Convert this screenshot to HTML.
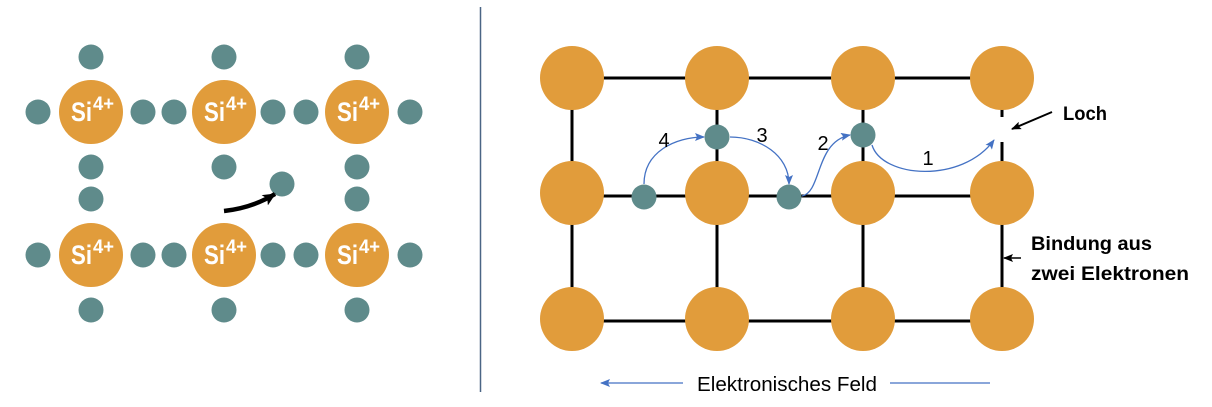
<!DOCTYPE html>
<html>
<head>
<meta charset="utf-8">
<style>
  html,body{margin:0;padding:0;background:#ffffff;}
  body{width:1212px;height:407px;overflow:hidden;}
  svg{display:block;}
</style>
</head>
<body>
<svg width="1212" height="407" viewBox="0 0 1212 407" xmlns="http://www.w3.org/2000/svg">
  <defs>
    <marker id="ab" markerUnits="userSpaceOnUse" markerWidth="14" markerHeight="12" refX="12" refY="6" orient="auto">
      <path d="M0,0 L13,6 L0,12 L3,6 Z" fill="#000"/>
    </marker>
    <marker id="abl" markerUnits="userSpaceOnUse" markerWidth="10" markerHeight="8" refX="9" refY="4" orient="auto">
      <path d="M0,0 L10,4 L0,8 L2,4 Z" fill="#4472C4"/>
    </marker>
    <marker id="ak" markerUnits="userSpaceOnUse" markerWidth="10" markerHeight="8" refX="9" refY="4" orient="auto">
      <path d="M0,0 L10,4 L0,8 L2,4 Z" fill="#000"/>
    </marker>
  </defs>

  <!-- ============ LEFT PART ============ -->
  <g fill="#5F8B8B">
    <circle cx="91" cy="57" r="12.5"/>
    <circle cx="224" cy="57" r="12.5"/>
    <circle cx="357" cy="57" r="12.5"/>
    <circle cx="38" cy="112" r="12.5"/>
    <circle cx="143" cy="112" r="12.5"/>
    <circle cx="174" cy="112" r="12.5"/>
    <circle cx="273" cy="112" r="12.5"/>
    <circle cx="306" cy="112" r="12.5"/>
    <circle cx="410" cy="112" r="12.5"/>
    <circle cx="91" cy="167" r="12.5"/>
    <circle cx="224" cy="167" r="12.5"/>
    <circle cx="357" cy="167" r="12.5"/>
    <circle cx="91" cy="199" r="12.5"/>
    <circle cx="357" cy="199" r="12.5"/>
    <circle cx="282" cy="184" r="12.5"/>
    <circle cx="38" cy="255" r="12.5"/>
    <circle cx="143" cy="255" r="12.5"/>
    <circle cx="174" cy="255" r="12.5"/>
    <circle cx="273" cy="255" r="12.5"/>
    <circle cx="306" cy="255" r="12.5"/>
    <circle cx="410" cy="255" r="12.5"/>
    <circle cx="91" cy="310" r="12.5"/>
    <circle cx="224" cy="310" r="12.5"/>
    <circle cx="357" cy="310" r="12.5"/>
  </g>
  <g fill="#E19C3B">
    <circle cx="91" cy="112" r="32"/>
    <circle cx="224" cy="112" r="32"/>
    <circle cx="357" cy="112" r="32"/>
    <circle cx="91" cy="255" r="32"/>
    <circle cx="224" cy="255" r="32"/>
    <circle cx="357" cy="255" r="32"/>
  </g>
  <g fill="#ffffff" font-family="'Liberation Sans', sans-serif" font-weight="bold">
    <text x="71" y="121" font-size="27" textLength="21" lengthAdjust="spacingAndGlyphs">Si</text>
    <text x="93" y="110" font-size="19" textLength="21" lengthAdjust="spacingAndGlyphs">4+</text>
    <text x="204" y="121" font-size="27" textLength="21" lengthAdjust="spacingAndGlyphs">Si</text>
    <text x="226" y="110" font-size="19" textLength="21" lengthAdjust="spacingAndGlyphs">4+</text>
    <text x="337" y="121" font-size="27" textLength="21" lengthAdjust="spacingAndGlyphs">Si</text>
    <text x="359" y="110" font-size="19" textLength="21" lengthAdjust="spacingAndGlyphs">4+</text>
    <text x="71" y="264" font-size="27" textLength="21" lengthAdjust="spacingAndGlyphs">Si</text>
    <text x="93" y="253" font-size="19" textLength="21" lengthAdjust="spacingAndGlyphs">4+</text>
    <text x="204" y="264" font-size="27" textLength="21" lengthAdjust="spacingAndGlyphs">Si</text>
    <text x="226" y="253" font-size="19" textLength="21" lengthAdjust="spacingAndGlyphs">4+</text>
    <text x="337" y="264" font-size="27" textLength="21" lengthAdjust="spacingAndGlyphs">Si</text>
    <text x="359" y="253" font-size="19" textLength="21" lengthAdjust="spacingAndGlyphs">4+</text>
  </g>
  <path d="M224,211 Q252,208 275,194" fill="none" stroke="#000" stroke-width="4.5" marker-end="url(#ab)"/>

  <line x1="480.5" y1="7" x2="480.5" y2="392" stroke="#4A6585" stroke-width="1.5"/>

  <!-- ============ RIGHT PART ============ -->
  <g stroke="#000" stroke-width="3" fill="none">
    <line x1="572" y1="78" x2="1002" y2="78"/>
    <line x1="572" y1="196" x2="1002" y2="196"/>
    <line x1="572" y1="321" x2="1002" y2="321"/>
    <line x1="572" y1="78" x2="572" y2="321"/>
    <line x1="717" y1="78" x2="717" y2="321"/>
    <line x1="863" y1="78" x2="863" y2="321"/>
    <line x1="1002" y1="105" x2="1002" y2="117"/>
    <line x1="1002" y1="142" x2="1002" y2="321"/>
  </g>
  <g fill="#E19C3B">
    <circle cx="572" cy="78" r="32"/>
    <circle cx="717" cy="78" r="32"/>
    <circle cx="863" cy="78" r="32"/>
    <circle cx="1002" cy="78" r="32"/>
    <circle cx="572" cy="193" r="32"/>
    <circle cx="717" cy="193" r="32"/>
    <circle cx="863" cy="193" r="32"/>
    <circle cx="1002" cy="193" r="32"/>
    <circle cx="572" cy="319" r="32"/>
    <circle cx="717" cy="319" r="32"/>
    <circle cx="863" cy="319" r="32"/>
    <circle cx="1002" cy="319" r="32"/>
  </g>
  <g fill="#5F8B8B">
    <circle cx="717" cy="137" r="12.5"/>
    <circle cx="644" cy="197" r="12.5"/>
    <circle cx="789" cy="197" r="12.5"/>
    <circle cx="863" cy="135" r="12.5"/>
  </g>

  <g fill="none" stroke="#4472C4" stroke-width="1.3">
    <path d="M644,184 C644,152 675,137 704,137" marker-end="url(#abl)"/>
    <path d="M730,137 C760,137 789,155 789,184" marker-end="url(#abl)"/>
    <path d="M802,196 C822,192 815,142 850,135" marker-end="url(#abl)"/>
    <path d="M872,145 C882,178 962,184 994,140" marker-end="url(#abl)"/>
  </g>
  <g font-family="'Liberation Sans', sans-serif" font-size="20" fill="#000" text-anchor="middle">
    <text x="664" y="147">4</text>
    <text x="762" y="142">3</text>
    <text x="823" y="150">2</text>
    <text x="928" y="165">1</text>
  </g>

  <line x1="1052" y1="112" x2="1012" y2="129" stroke="#000" stroke-width="2" marker-end="url(#ak)"/>
  <text x="1063" y="120" font-family="'Liberation Sans', sans-serif" font-weight="bold" font-size="19" textLength="44" lengthAdjust="spacingAndGlyphs">Loch</text>

  <line x1="1021" y1="258" x2="1004" y2="258" stroke="#000" stroke-width="1.5" marker-end="url(#ak)"/>
  <text x="1031" y="250" font-family="'Liberation Sans', sans-serif" font-weight="bold" font-size="19" textLength="121" lengthAdjust="spacingAndGlyphs">Bindung aus</text>
  <text x="1031" y="280" font-family="'Liberation Sans', sans-serif" font-weight="bold" font-size="19" textLength="158" lengthAdjust="spacingAndGlyphs">zwei Elektronen</text>

  <line x1="683" y1="383" x2="601" y2="383" stroke="#4472C4" stroke-width="1.3" marker-end="url(#abl)"/>
  <line x1="890" y1="383" x2="990" y2="383" stroke="#4472C4" stroke-width="1.3"/>
  <text x="697" y="391" font-family="'Liberation Sans', sans-serif" font-size="20" fill="#000" textLength="180" lengthAdjust="spacingAndGlyphs">Elektronisches Feld</text>
</svg>
</body>
</html>
